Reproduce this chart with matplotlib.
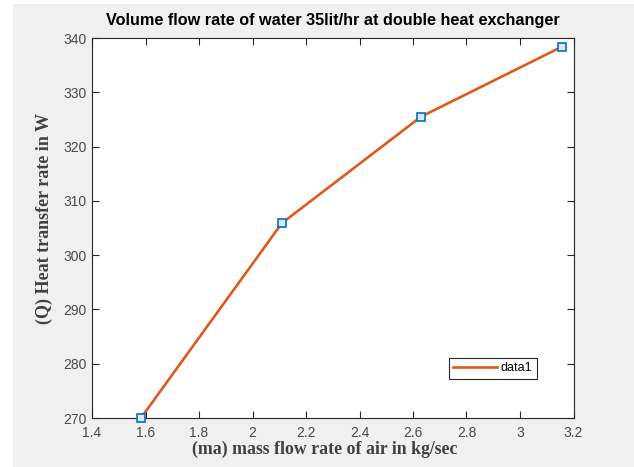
import matplotlib
matplotlib.use("Agg")
import matplotlib.pyplot as plt
from matplotlib.patches import Rectangle

# air mass flow rate (kg/s) vs heat transfer rate (W)
ma = [1.583, 2.110, 2.630, 3.157]
Q = [270.0, 305.9, 325.5, 338.4]
xticks = [1.4, 1.6, 1.8, 2.0, 2.2, 2.4, 2.6, 2.8, 3.0, 3.2]
xticklabels = ["1.4", "1.6", "1.8", "2", "2.2", "2.4", "2.6", "2.8", "3", "3.2"]
yticks = [270, 280, 290, 300, 310, 320, 330, 340]

fig = plt.figure(figsize=(6.34, 4.67), dpi=100)
fig.patch.set_facecolor("white")
# gray MATLAB figure background (screenshot has a white strip on the left/top)
fig.patches.append(Rectangle((13 / 634, 0), 1, 1 - 4 / 467, transform=fig.transFigure,
                             facecolor="#f0f0f0", edgecolor="none", zorder=-5))

ax = fig.add_axes([92 / 634, 1 - 418 / 467, (573.5 - 92) / 634, (418 - 38) / 467])
ax.set_facecolor("white")
ax.plot(ma, Q, color="#DD5A1E", lw=1.9, marker="s", ms=6, mfc="#dbe9f5",
        mec="#0072BD", mew=1.2, label="data1", clip_on=False, zorder=3)

ax.set_xlim(1.4, 3.2)
ax.set_ylim(270, 340)
ax.set_xticks(xticks)
ax.set_xticklabels(xticklabels)
ax.set_yticks(yticks)
ax.tick_params(direction="in", top=True, right=True, length=5, width=0.8,
               labelsize=10, labelcolor="#4a4a4a", colors="#262626")
ax.tick_params(axis="x", pad=6)
ax.tick_params(axis="y", pad=4)
for lab in ax.get_xticklabels() + ax.get_yticklabels():
    lab.set_fontfamily("Liberation Sans")
for s in ax.spines.values():
    s.set_color("#262626")
    s.set_linewidth(0.8)

ax.set_title("Volume flow rate of water 35lit/hr at double heat exchanger",
             fontfamily="Liberation Sans", fontweight="bold", fontsize=11.7, pad=9)
ax.set_xlabel("(ma) mass flow rate of air in kg/sec", fontfamily="Liberation Serif",
              fontweight="bold", fontsize=12.8, color="#404040", labelpad=1)
ax.xaxis.set_label_coords(0.483, -0.06)
ax.set_ylabel("(Q) Heat transfer rate in W", fontfamily="Liberation Serif",
              fontweight="bold", fontsize=13, color="#404040", labelpad=6)
ax.yaxis.set_label_coords(-0.081, 0.525)

leg = ax.legend(loc="lower right", bbox_to_anchor=(0.924, 0.103), borderaxespad=0,
                prop={"family": "Liberation Sans", "size": 9},
                fancybox=False, framealpha=1, edgecolor="#262626",
                handlelength=3.5, borderpad=0.35, handletextpad=0.3)
leg.get_frame().set_linewidth(0.8)
for h in leg.legend_handles:
    h.set_marker("")

fig.savefig("out.png", dpi=100)
